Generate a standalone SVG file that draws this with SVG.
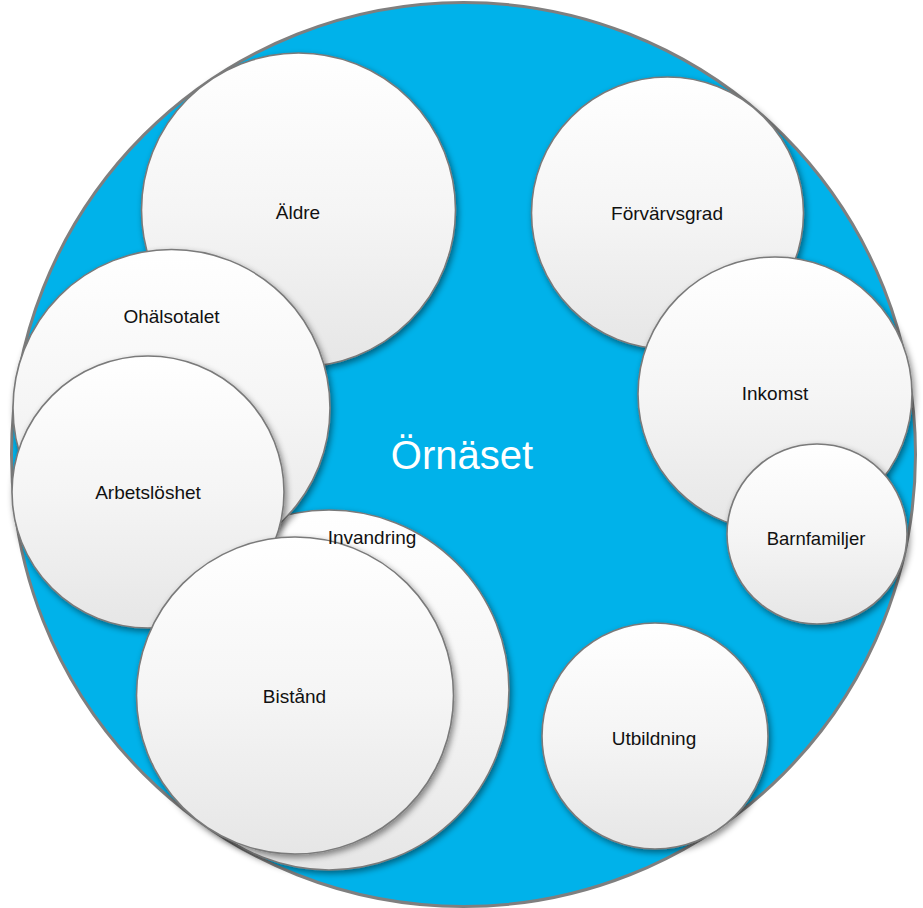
<svg xmlns="http://www.w3.org/2000/svg" width="923" height="908" viewBox="0 0 923 908">
  <style>
    .bubble { fill: url(#wg); stroke: #7a7a7a; stroke-width: 1.6; filter: url(#sh); }
    .lbl { font-family: "Liberation Sans", Arial, sans-serif; font-size: 19px; fill: #111111; text-anchor: middle; }
  </style>
  <defs>
    <linearGradient id="wg" x1="0" y1="0" x2="0" y2="1">
      <stop offset="0" stop-color="#ffffff"/>
      <stop offset="0.5" stop-color="#f5f5f5"/>
      <stop offset="1" stop-color="#e6e6e6"/>
    </linearGradient>
    <filter id="sh" x="-10%" y="-10%" width="125%" height="125%">
      <feDropShadow dx="2" dy="3" stdDeviation="3" flood-color="#000000" flood-opacity="0.45"/>
    </filter>
  </defs>

  <g id="node-ornaset">
    <circle cx="463.5" cy="454.5" r="452" fill="#00B2EA" stroke="#7f7f7f" stroke-width="3"/>
    <text x="462" y="469" font-family="Liberation Sans, Arial, sans-serif" font-size="40" fill="#ffffff" text-anchor="middle">Örnäset</text>
  </g>

  <g id="node-aldre">
    <circle class="bubble" cx="298.5" cy="210" r="157"/>
    <text class="lbl" x="298" y="219">Äldre</text>
  </g>

  <g id="node-invandring">
    <circle class="bubble" cx="329" cy="690" r="180"/>
  </g>

  <g id="node-ohalsotalet">
    <circle class="bubble" cx="171.5" cy="408" r="158.5"/>
    <text class="lbl" x="171.5" y="323">Ohälsotalet</text>
  </g>

  <g id="node-arbetsloshet">
    <circle class="bubble" cx="148" cy="492" r="136"/>
    <text class="lbl" x="148" y="499">Arbetslöshet</text>
  </g>

  <g id="node-bistand">
    <circle class="bubble" cx="295" cy="695.5" r="158.5"/>
    <text class="lbl" x="294.5" y="703">Bistånd</text>
  </g>

  <g id="node-invandring-label">
    <text class="lbl" x="372" y="544">Invandring</text>
  </g>

  <g id="node-forvarvsgrad">
    <circle class="bubble" cx="667.5" cy="213" r="136"/>
    <text class="lbl" x="667" y="220">Förvärvsgrad</text>
  </g>

  <g id="node-inkomst">
    <circle class="bubble" cx="775" cy="394" r="137"/>
    <text class="lbl" x="775" y="400">Inkomst</text>
  </g>

  <g id="node-barnfamiljer">
    <circle class="bubble" cx="817" cy="534" r="90"/>
    <text class="lbl" x="816" y="545" style="font-size:18.5px">Barnfamiljer</text>
  </g>

  <g id="node-utbildning">
    <circle class="bubble" cx="655" cy="736" r="113"/>
    <text class="lbl" x="654" y="745">Utbildning</text>
  </g>

  <g id="connectors"></g>
</svg>
